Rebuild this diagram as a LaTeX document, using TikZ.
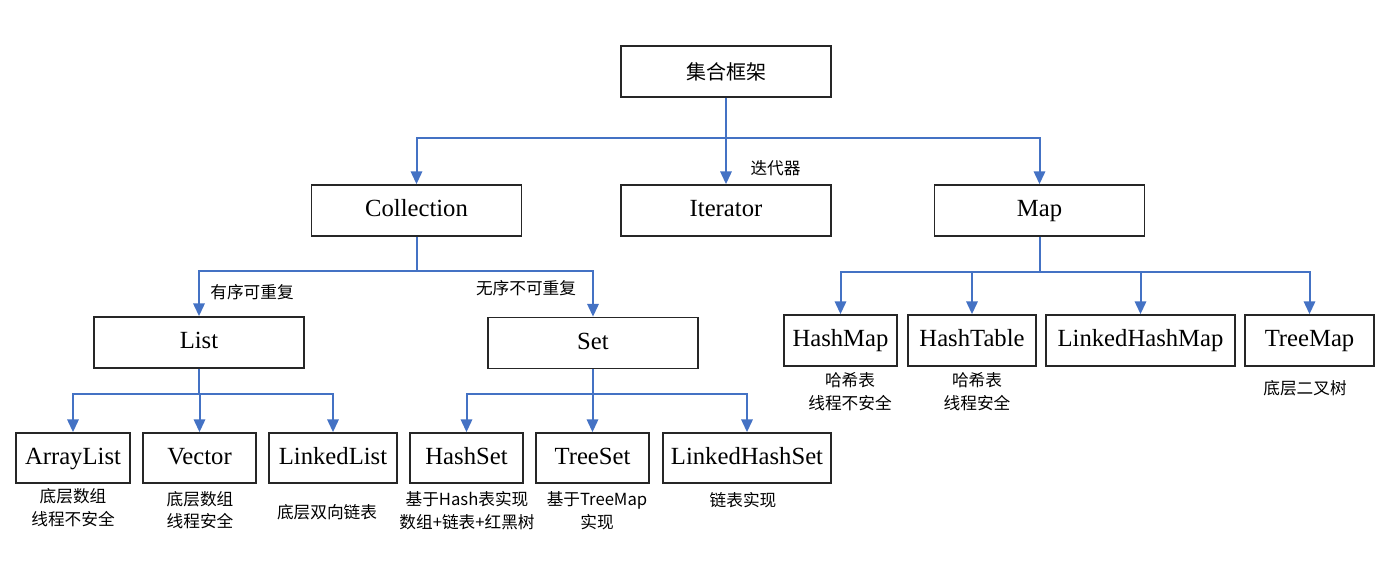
\documentclass[tikz,border=0pt]{standalone}
\usepackage{fontspec}
\setmainfont{Liberation Serif}
\newfontfamily\cjk{Noto Sans CJK SC}
\usetikzlibrary{arrows.meta}
\definecolor{linkblue}{HTML}{4472C4}
\begin{document}
\begin{tikzpicture}[x=0.75pt, y=-0.75pt,
    every node/.style={align=center},
    box/.style={draw=black!85, line width=1.3pt, minimum height=37.5pt, inner sep=0pt, text height=12pt, text depth=3pt, font=\fontsize{18.5}{20}\selectfont},
    wide box/.style={box, minimum width=157.5pt, minimum height=38.25pt},
    note/.style={font=\cjk\fontsize{12.5}{17}\selectfont, inner sep=0pt},
    tree line/.style={draw=linkblue, line width=1.5pt, -{Triangle[length=9.5pt, width=8.5pt]}},
    ]
\useasboundingbox (0,0) rectangle (1392,578);
% top levels
\node[wide box, text height=13.5pt, text depth=2pt, font=\cjk\fontsize{15}{18}\selectfont] (Top) at (726,71.5) {集合框架};
\node[wide box] (Coll) at (416.5,210.5) {Collection};
\node[wide box] (Iter) at (726,210.5) {Iterator};
\node[wide box] (Map) at (1039.5,210.5) {Map};
\node[wide box] (List) at (199,342.5) {List};
\node[wide box] (Set) at (593,343) {Set};
% leaves
\node[box, minimum width=85.5pt] (ArrayList) at (73,458) {ArrayList};
\node[box, minimum width=84.75pt] (Vector) at (199.5,458) {Vector};
\node[box, minimum width=96pt] (LinkedList) at (333,458) {LinkedList};
\node[box, minimum width=84.75pt] (HashSet) at (466.5,458) {HashSet};
\node[box, minimum width=84.75pt] (TreeSet) at (592.5,458) {TreeSet};
\node[box, minimum width=126pt] (LinkedHashSet) at (747,458) {LinkedHashSet};
\node[box, minimum width=84.75pt, minimum height=38.25pt] (HashMap) at (840.5,340.5) {HashMap};
\node[box, minimum width=96pt, minimum height=38.25pt] (HashTable) at (972,340.5) {HashTable};
\node[box, minimum width=141.75pt, minimum height=38.25pt] (LinkedHashMap) at (1140.5,340.5) {LinkedHashMap};
\node[box, minimum width=96.75pt, minimum height=38.25pt] (TreeMap) at (1309.5,340.5) {TreeMap};
% bars
\coordinate (topbar) at (726,138);
\coordinate (collbar) at (416.5,271);
\coordinate (listbar) at (199,394);
\coordinate (setbar) at (593,394);
\coordinate (mapbar) at (1039.5,272);
% connectors
\draw[tree line] (Top.south) -- (topbar) -| (Coll.north);
\draw[tree line] (Top.south) -- (topbar) -| (Iter.north);
\draw[tree line] (Top.south) -- (topbar) -| (Map.north);
\draw[tree line] (Coll.south) -- (collbar) -| (List.north);
\draw[tree line] (Coll.south) -- (collbar) -| (Set.north);
\draw[tree line] (List.south) -- (listbar) -| (ArrayList.north);
\draw[tree line] (List.south) -- (listbar) -| (Vector.north);
\draw[tree line] (List.south) -- (listbar) -| (LinkedList.north);
\draw[tree line] (Set.south) -- (setbar) -| (HashSet.north);
\draw[tree line] (Set.south) -- (setbar) -| (TreeSet.north);
\draw[tree line] (Set.south) -- (setbar) -| (LinkedHashSet.north);
\draw[tree line] (Map.south) -- (mapbar) -| (HashMap.north);
\draw[tree line] (Map.south) -- (mapbar) -| (HashTable.north);
\draw[tree line] (Map.south) -- (mapbar) -| (LinkedHashMap.north);
\draw[tree line] (Map.south) -- (mapbar) -| (TreeMap.north);
% notes
\node[note] (iterNote) at (775.5,168) {迭代器};
\node[note] (listNote) at (252,292) {有序可重复};
\node[note] (setNote) at (526,288) {无序不可重复};
\node[note] (arrayNote) at (73,507.5) {底层数组\\线程不安全};
\node[note] (vectorNote) at (200,510) {底层数组\\线程安全};
\node[note] (linkedNote) at (327,512) {底层双向链表};
\node[note] (hashSetNote) at (467,510.5) {基于Hash表实现\\数组+链表+红黑树};
\node[note] (treeSetNote) at (597,510.5) {基于TreeMap\\实现};
\node[note] (lhSetNote) at (743,500) {链表实现};
\node[note] (hashMapNote) at (850,391.5) {哈希表\\线程不安全};
\node[note] (hashTableNote) at (977,391.5) {哈希表\\线程安全};
\node[note] (treeMapNote) at (1305,388) {底层二叉树};
\end{tikzpicture}
\end{document}
